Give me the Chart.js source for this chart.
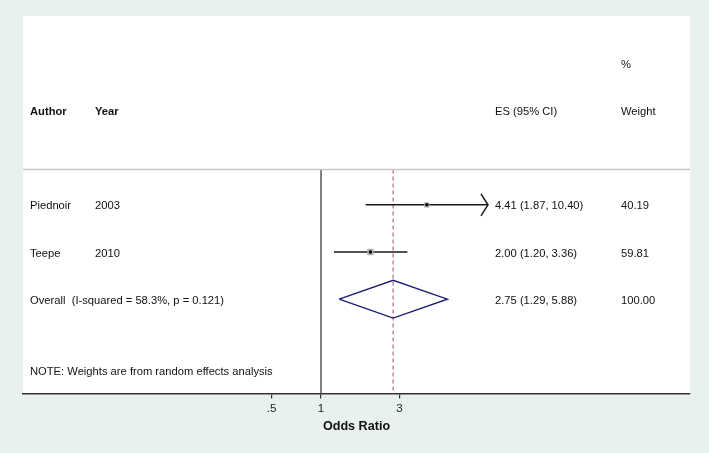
<!DOCTYPE html>
<html>
<head>
<meta charset="utf-8">
<script src="https://cdn.jsdelivr.net/npm/chart.js@4/dist/chart.umd.min.js"></script>
<style>
  html, body { margin: 0; padding: 0; background: #e8f0f0; }
  #wrap { width: 709px; height: 453px; }
</style>
</head>
<body>
<div id="wrap"><canvas id="forest" width="709" height="453"></canvas></div>
<script>
// study data (odds ratios)
const authors = ["Piednoir", "Teepe"];
const years = ["2003", "2010"];
const es = [4.41, 2.00];
const ciLow = [1.87, 1.20];
const ciHigh = [10.40, 3.36];
const weights = [40.19, 59.81];
const arrowRight = [true, false];

// pooled estimate
const overallLabel = "Overall  (I-squared = 58.3%, p = 0.121)";
const overallEs = 2.75;
const overallLow = 1.29;
const overallHigh = 5.88;
const overallWeight = "100.00";

const xTicks = [0.5, 1, 3];
const note = "NOTE: Weights are from random effects analysis";

// rows: 1..n for studies, n+1 for overall
const rows = authors.map((a, i) => i + 1);
const overallRow = authors.length + 1;
const fmt = v => v.toFixed(2);

const datasets = [];

// CI lines
rows.forEach((r, i) => {
  datasets.push({
    data: [{ x: ciLow[i], y: r }, { x: ciHigh[i], y: r }],
    borderColor: "#1a1a1a", borderWidth: 1.5, pointRadius: 0, showLine: true, order: 3
  });
});

// weight boxes
datasets.push({
  data: rows.map((r, i) => ({ x: es[i], y: r })),
  pointStyle: "rect",
  pointRadius: weights.map(w => 0.58 * Math.sqrt(w)),
  backgroundColor: "#b0b0b0", borderWidth: 0, showLine: false, order: 1
});

// point estimates
datasets.push({
  data: rows.map((r, i) => ({ x: es[i], y: r })),
  pointStyle: "circle", pointRadius: 1.7,
  backgroundColor: "#000", borderWidth: 0, showLine: false, order: 0
});

// null line at 1
datasets.push({
  data: [{ x: 1, y: 0.25 }, { x: 1, y: 5 }],
  borderColor: "#555", borderWidth: 1.5, pointRadius: 0, showLine: true, order: 6
});

// overall effect dashed line
datasets.push({
  data: [{ x: overallEs, y: 0.25 }, { x: overallEs, y: 5 }],
  borderColor: "#bb8090", borderWidth: 1.4, borderDash: [4, 3], pointRadius: 0, showLine: true, order: 5
});

// overall diamond
datasets.push({
  data: [
    { x: overallLow, y: overallRow },
    { x: overallEs, y: overallRow - 0.4 },
    { x: overallHigh, y: overallRow },
    { x: overallEs, y: overallRow + 0.4 },
    { x: overallLow, y: overallRow }
  ],
  borderColor: "#1c1c70", borderWidth: 1.4, pointRadius: 0, showLine: true, fill: false, tension: 0, order: 2
});

const family = "'Liberation Sans', Arial, sans-serif";
const font = "11.2px " + family;
const boldFont = "bold 11.2px " + family;
const textShift = 1.5;

const forestText = {
  id: "forestText",
  beforeDraw(chart) {
    const { ctx, chartArea: a } = chart;
    ctx.save();
    ctx.fillStyle = "#ffffff";
    ctx.fillRect(a.left, a.top, a.right - a.left, a.bottom - a.top);
    ctx.restore();
  },
  afterDatasetsDraw(chart) {
    const { ctx, chartArea: a, scales: { x, y } } = chart;
    ctx.save();
    // header separator
    const sepY = y.getPixelForValue(0.25);
    ctx.strokeStyle = "#c8c8c8";
    ctx.lineWidth = 1.5;
    ctx.beginPath();
    ctx.moveTo(a.left, sepY);
    ctx.lineTo(a.right, sepY);
    ctx.stroke();

    // arrows for truncated CIs
    ctx.strokeStyle = "#1a1a1a";
    ctx.lineWidth = 1.5;
    rows.forEach((r, i) => {
      if (!arrowRight[i]) return;
      const px = x.getPixelForValue(ciHigh[i]);
      const py = y.getPixelForValue(r);
      ctx.beginPath();
      ctx.moveTo(px - 7, py - 11);
      ctx.lineTo(px, py);
      ctx.lineTo(px - 7, py + 11);
      ctx.stroke();
    });

    ctx.fillStyle = "#111";
    ctx.textBaseline = "middle";
    ctx.textAlign = "left";
    const colAuthor = a.left + 7, colYear = a.left + 72, colEs = a.left + 472, colW = a.left + 598;
    const ty = v => y.getPixelForValue(v) + textShift;

    // headers
    ctx.font = boldFont;
    ctx.fillText("Author", colAuthor, ty(-1));
    ctx.fillText("Year", colYear, ty(-1));
    ctx.font = font;
    ctx.fillText("ES (95% CI)", colEs, ty(-1));
    ctx.fillText("%", colW, ty(-2));
    ctx.fillText("Weight", colW, ty(-1));

    rows.forEach((r, i) => {
      const py = ty(r);
      ctx.fillText(authors[i], colAuthor, py);
      ctx.fillText(years[i], colYear, py);
      ctx.fillText(`${fmt(es[i])} (${fmt(ciLow[i])}, ${fmt(ciHigh[i])})`, colEs, py);
      ctx.fillText(fmt(weights[i]), colW, py);
    });
    const oy = ty(overallRow);
    ctx.fillText(overallLabel, colAuthor, oy);
    ctx.fillText(`${fmt(overallEs)} (${fmt(overallLow)}, ${fmt(overallHigh)})`, colEs, oy);
    ctx.fillText(overallWeight, colW, oy);
    ctx.fillText(note, colAuthor, ty(overallRow + 1.5));
    ctx.restore();
  }
};

new Chart(document.getElementById("forest"), {
  type: "scatter",
  data: { datasets },
  plugins: [forestText],
  options: {
    responsive: false,
    animation: false,
    layout: { padding: { left: 23, right: 19, top: 16, bottom: 14.5 } },
    plugins: { legend: { display: false }, tooltip: { enabled: false } },
    scales: {
      x: {
        type: "logarithmic",
        min: 0.0153,
        max: 176.8,
        afterBuildTicks: axis => { axis.ticks = xTicks.map(v => ({ value: v })); },
        ticks: {
          callback: v => (v < 1 ? String(v).replace(/^0/, "") : String(v)),
          color: "#222",
          font: { family, size: 11.5 },
          padding: 3,
          maxRotation: 0,
          autoSkip: false
        },
        grid: { drawOnChartArea: false, drawTicks: true, tickLength: 5, color: "#333", lineWidth: 1.2 },
        border: { display: true, color: "#333", width: 1.6 },
        title: {
          display: true,
          text: "Odds Ratio",
          color: "#111",
          font: { family, size: 12.6, weight: "bold" },
          padding: { top: 1, bottom: 4 }
        }
      },
      y: {
        type: "linear",
        reverse: true,
        min: -3,
        max: 5,
        display: false
      }
    }
  }
});
</script>
</body>
</html>
